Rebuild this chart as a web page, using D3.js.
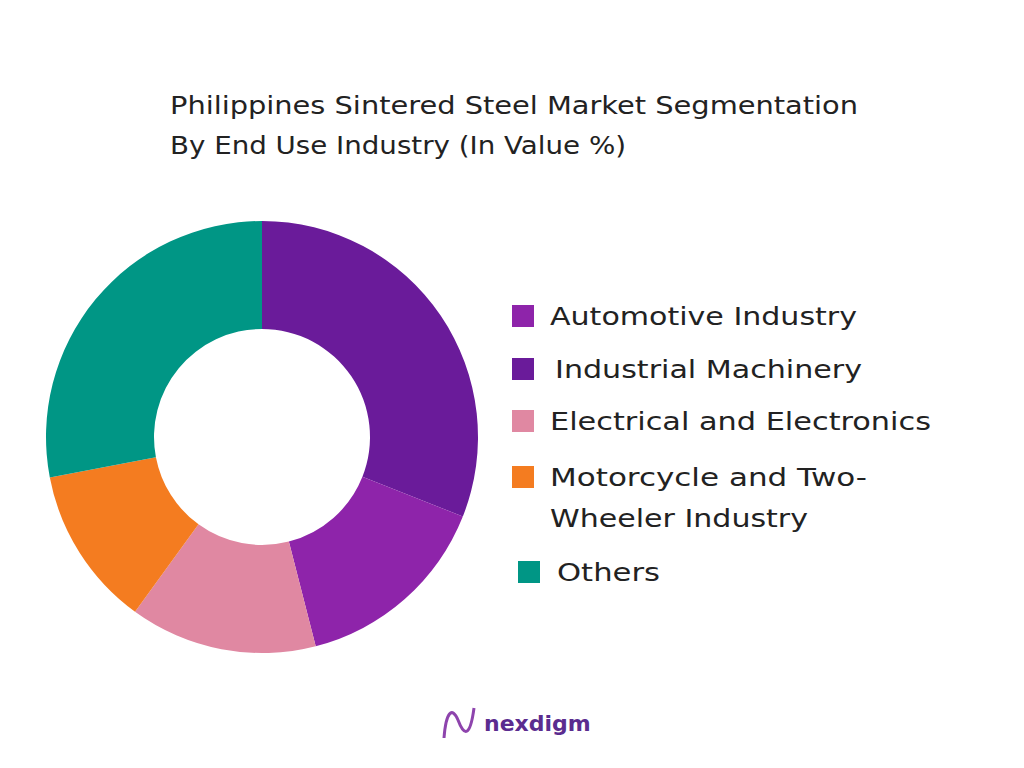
<!DOCTYPE html>
<html><head><meta charset="utf-8">
<script src="https://cdn.jsdelivr.net/npm/d3@7"></script>
<style>body{margin:0;background:#fff}</style></head>
<body><svg id="c" width="1024" height="768"></svg>
<script>
const categories = ["Industrial Machinery","Automotive Industry","Electrical and Electronics","Motorcycle and Two-Wheeler Industry","Others"];
const values = [31,15,14,12,28];
const colors = ["#6A1B9A","#8E24AA","#E088A2","#F47C20","#009685"];
const legendOrder = [1,0,2,3,4];
const legendLines = [["Automotive Industry"],["Industrial Machinery"],["Electrical and Electronics"],["Motorcycle and Two-","Wheeler Industry"],["Others"]];
const legendWidths = [[307],[307],[381],[317],[258],[103]];

const svg = d3.select("#c");
svg.append("rect").attr("width",1024).attr("height",768).attr("fill","#fff");
const font = "'DejaVu Sans', sans-serif";
svg.append("text").attr("x",170).attr("y",114).attr("font-family",font).attr("font-size",24).attr("fill","#222").attr("textLength",688).attr("lengthAdjust","spacingAndGlyphs").text("Philippines Sintered Steel Market Segmentation");
svg.append("text").attr("x",170).attr("y",154).attr("font-family",font).attr("font-size",24).attr("fill","#222").attr("textLength",456).attr("lengthAdjust","spacingAndGlyphs").text("By End Use Industry (In Value %)");

const pie = d3.pie().sort(null).value(d=>d);
const arc = d3.arc().innerRadius(108).outerRadius(216);
const g = svg.append("g").attr("transform","translate(262,437)");
g.selectAll("path").data(pie(values)).join("path").attr("d",arc).attr("fill",(d,i)=>colors[i]);

const ys=[316,369,421,477,572];
const xs=[512,512,512,512,518];
const lw=[[307],[307],[381],[317,258],[103]];
legendOrder.forEach((ci,k)=>{
  const lg = svg.append("g");
  lg.append("rect").attr("x",xs[k]).attr("y",ys[k]-11).attr("width",22).attr("height",22).attr("fill",colors[ci]);
  legendLines[k].forEach((t,j)=>{
    lg.append("text").attr("x",xs[k]+38+(k==1?5:0)+(k==4?1:0)).attr("y",ys[k]+9+j*41).attr("font-family",font).attr("font-size",25).attr("fill","#222")
      .attr("textLength",lw[k][j]).attr("lengthAdjust","spacingAndGlyphs").text(t);
  });
});
// logo
const lo = svg.append("g");
lo.append("path").attr("d","M444,738 C446,712 452,706 458,720 C464,736 470,738 474,708").attr("fill","none").attr("stroke","#8E44AD").attr("stroke-width",3);
lo.append("text").attr("x",484).attr("y",731).attr("font-family",font).attr("font-weight","bold").attr("font-size",22).attr("fill","#5B2C8F").text("nexdigm");
</script></body></html>
